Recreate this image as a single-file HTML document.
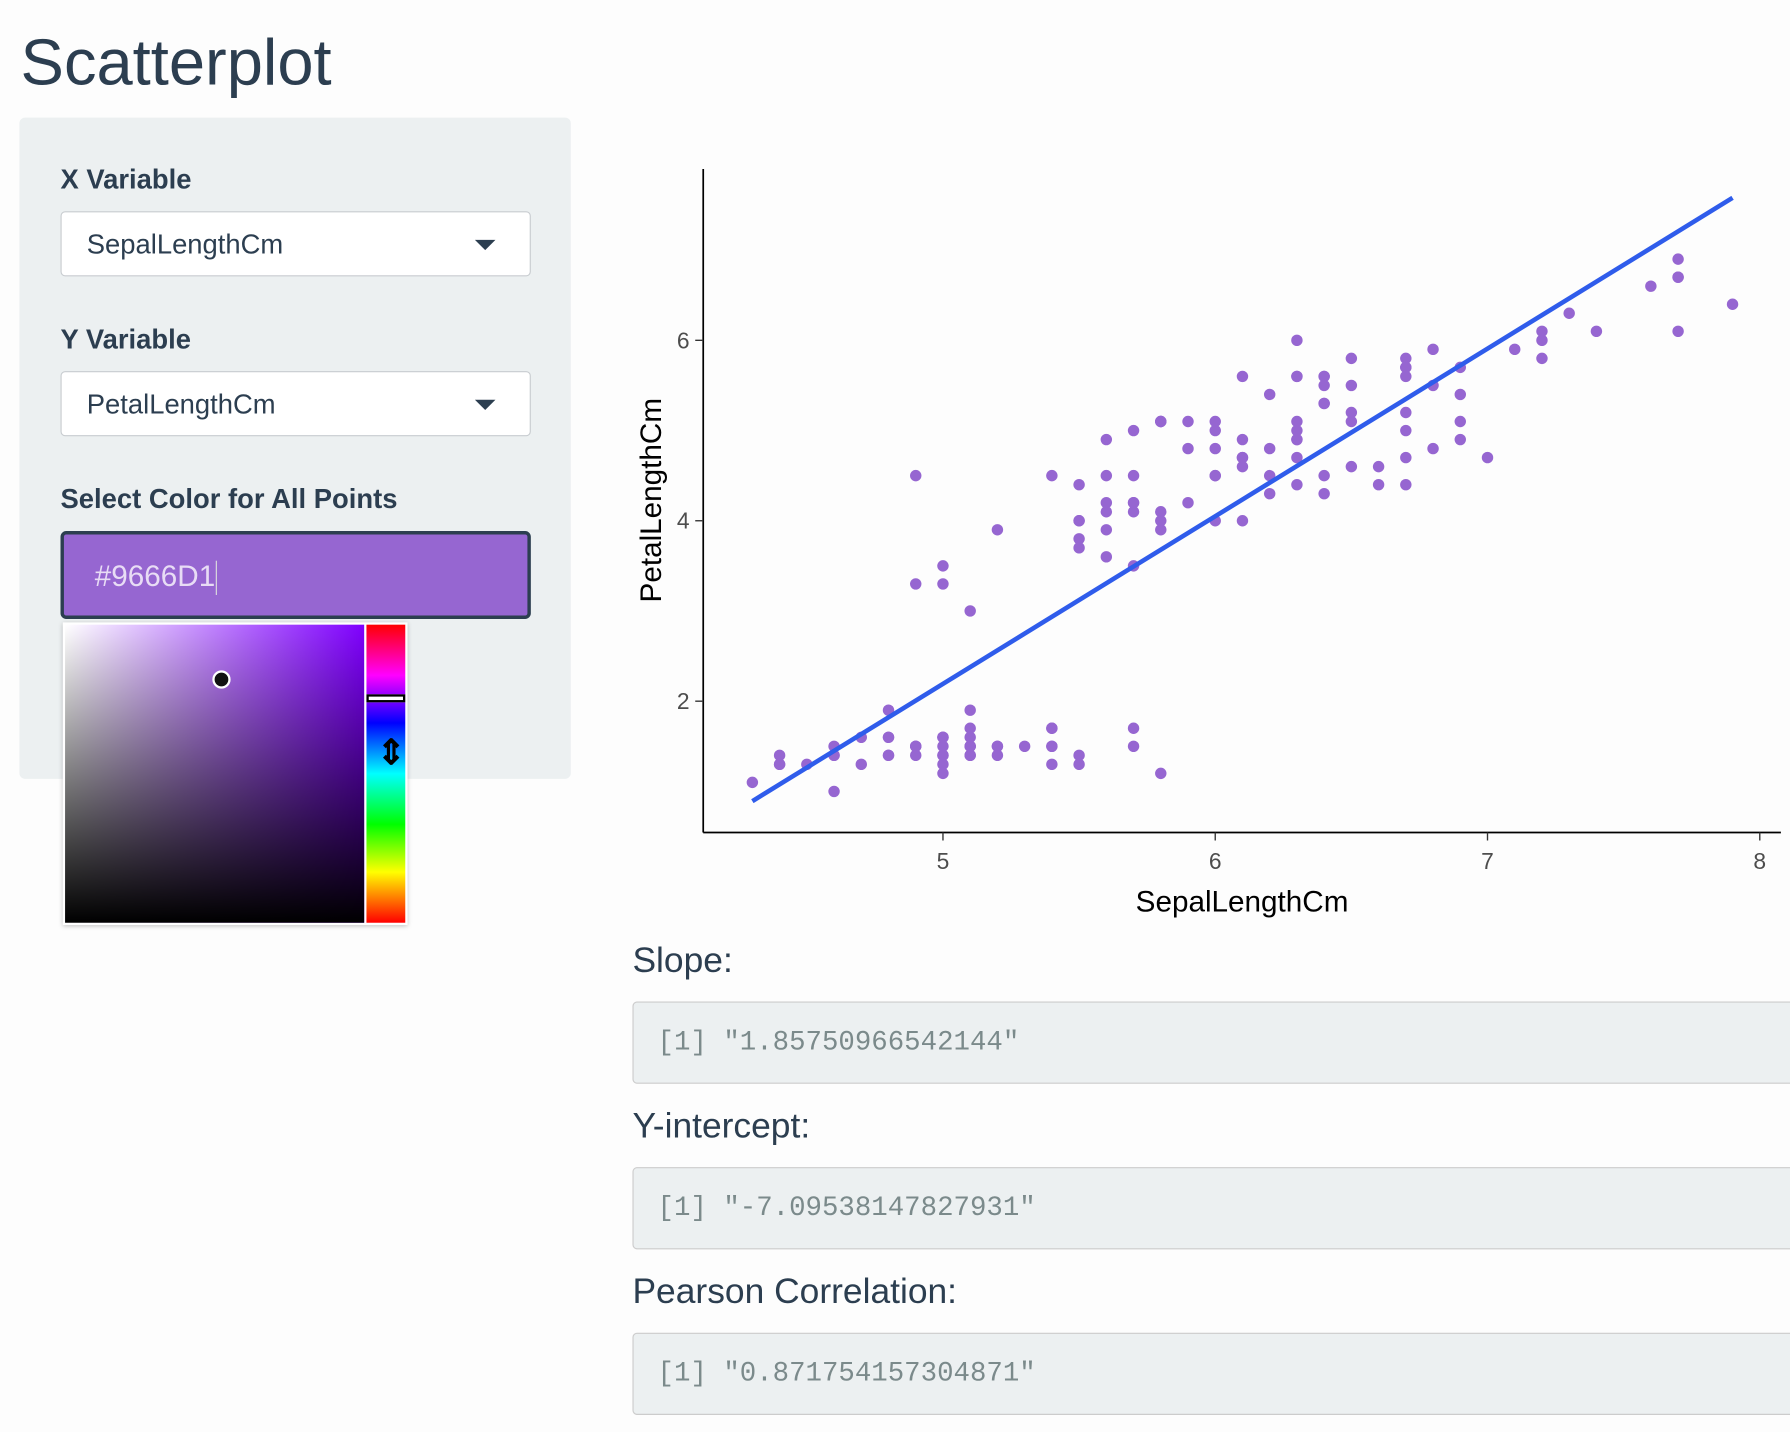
<!DOCTYPE html>
<html><head><meta charset="utf-8">
<style>
html,body{margin:0;padding:0;background:#fdfdfd;width:1790px;height:1432px;overflow:hidden}
#wrap{position:absolute;left:0;top:0;width:1568px;height:1254px;transform:scale(1.1416,1.142);transform-origin:0 0;font-family:"Liberation Sans",sans-serif;color:#2c3e50}
.abs{position:absolute}
.lbl{font-weight:bold;font-size:24px;color:#2c3e50}
.sel{background:#fff;border:1px solid #c8ccd0;border-radius:4px;box-sizing:border-box;font-size:24px;color:#2c3e50;padding-left:22px;line-height:58px}
.caret{position:absolute;right:30px;top:24px;width:0;height:0;border-left:9px solid transparent;border-right:9px solid transparent;border-top:9px solid #2c3e50}
.h{font-size:31px;color:#2c3e50}
.out{background:#ecf0f1;border:1px solid #ccc;border-radius:4px;box-sizing:border-box;font-family:"Liberation Mono",monospace;font-size:24px;color:#7b8a8b;padding-left:21px;line-height:72px}
</style></head><body>
<div id="wrap">
<div class="abs" style="left:18px;top:22px;font-size:57px;color:#2c3e50">Scatterplot</div>
<div class="abs" style="left:17px;top:103px;width:483px;height:579px;background:#ecf0f1;border-radius:5px"></div>
<div class="abs lbl" style="left:53px;top:144px">X Variable</div>
<div class="abs sel" style="left:53px;top:185px;width:412px;height:57px">SepalLengthCm<div class="caret"></div></div>
<div class="abs lbl" style="left:53px;top:284px">Y Variable</div>
<div class="abs sel" style="left:53px;top:325px;width:412px;height:57px">PetalLengthCm<div class="caret"></div></div>
<div class="abs lbl" style="left:53px;top:424px">Select Color for All Points</div>
<div class="abs" style="left:53px;top:465px;width:412px;height:77px;box-sizing:border-box;background:#9666D1;border:3px solid #2c3e50;border-radius:5px;color:#e8dcf5;font-size:26px;line-height:73px;padding-left:27px">#9666D1<span style="display:inline-block;width:1px;height:30px;background:#ddd;vertical-align:middle"></span></div>
<div class="abs" style="left:55px;top:545px;width:302px;height:265px;background:#fff;box-shadow:0 1px 4px rgba(0,0,0,.25)">
 <div class="abs" style="left:2px;top:2px;width:262px;height:261px;background:linear-gradient(to top,#000,rgba(0,0,0,0)),linear-gradient(to right,#fff,#7f00ff)"></div>
 <div class="abs" style="left:131px;top:42px;width:12px;height:12px;border-radius:50%;background:#111;border:2px solid #fff"></div>
 <div class="abs" style="left:266px;top:2px;width:34px;height:261px;background:linear-gradient(to bottom,#f00 0%,#f0f 17%,#00f 33%,#0ff 50%,#0f0 67%,#ff0 83%,#f00 100%)"></div>
 <div class="abs" style="left:266px;top:63px;width:30px;height:3px;background:#fff;border:2px solid #000"></div>
 <div class="abs" style="left:275px;top:100px;font-size:30px;color:#000;line-height:30px;font-weight:bold">⇕</div>
</div>
<svg class="abs" style="left:0;top:0" width="1568" height="830"><g id="plot"></g></svg>
<div class="abs h" style="left:554px;top:823px">Slope:</div>
<div class="abs out" style="left:554px;top:877px;width:1030px;height:72px">[1] "1.85750966542144"</div>
<div class="abs h" style="left:554px;top:968px">Y-intercept:</div>
<div class="abs out" style="left:554px;top:1022px;width:1030px;height:72px">[1] "-7.09538147827931"</div>
<div class="abs h" style="left:554px;top:1113px">Pearson Correlation:</div>
<div class="abs out" style="left:554px;top:1167px;width:1030px;height:72px">[1] "0.871754157304871"</div>
</div>
<script>
const sepalLength=[5.1,4.9,4.7,4.6,5.0,5.4,4.6,5.0,4.4,4.9,5.4,4.8,4.8,4.3,5.8,5.7,5.4,5.1,5.7,5.1,5.4,5.1,4.6,5.1,4.8,5.0,5.0,5.2,5.2,4.7,4.8,5.4,5.2,5.5,4.9,5.0,5.5,4.9,4.4,5.1,5.0,4.5,4.4,5.0,5.1,4.8,5.1,4.6,5.3,5.0,
7.0,6.4,6.9,5.5,6.5,5.7,6.3,4.9,6.6,5.2,5.0,5.9,6.0,6.1,5.6,6.7,5.6,5.8,6.2,5.6,5.9,6.1,6.3,6.1,6.4,6.6,6.8,6.7,6.0,5.7,5.5,5.5,5.8,6.0,5.4,6.0,6.7,6.3,5.6,5.5,5.5,6.1,5.8,5.0,5.6,5.7,5.7,6.2,5.1,5.7,
6.3,5.8,7.1,6.3,6.5,7.6,4.9,7.3,6.7,7.2,6.5,6.4,6.8,5.7,5.8,6.4,6.5,7.7,7.7,6.0,6.9,5.6,7.7,6.3,6.7,7.2,6.2,6.1,6.4,7.2,7.4,7.9,6.4,6.3,6.1,7.7,6.3,6.4,6.0,6.9,6.7,6.9,5.8,6.8,6.7,6.7,6.3,6.5,6.2,5.9];
const petalLength=[1.4,1.4,1.3,1.5,1.4,1.7,1.4,1.5,1.4,1.5,1.5,1.6,1.4,1.1,1.2,1.5,1.3,1.4,1.7,1.5,1.7,1.5,1.0,1.7,1.9,1.6,1.6,1.5,1.4,1.6,1.6,1.5,1.5,1.4,1.5,1.2,1.3,1.5,1.3,1.5,1.3,1.3,1.3,1.6,1.9,1.4,1.6,1.4,1.5,1.4,
4.7,4.5,4.9,4.0,4.6,4.5,4.7,3.3,4.6,3.9,3.5,4.2,4.0,4.7,3.6,4.4,4.5,4.1,4.5,3.9,4.8,4.0,4.9,4.7,4.3,4.4,4.8,5.0,4.5,3.5,3.8,3.7,3.9,5.1,4.5,4.5,4.7,4.4,4.1,4.0,4.4,4.6,4.0,3.3,4.2,4.2,4.2,4.3,3.0,4.1,
6.0,5.1,5.9,5.6,5.8,6.6,4.5,6.3,5.8,6.1,5.1,5.3,5.5,5.0,5.1,5.3,5.5,6.7,6.9,5.0,5.7,4.9,6.7,4.9,5.7,6.0,4.8,4.9,5.6,5.8,6.1,6.4,5.6,5.1,5.6,6.1,5.6,5.5,4.8,5.4,5.6,5.1,5.1,5.9,5.7,5.2,5.0,5.2,5.4,5.1];
const xTicks=[5,6,7,8];
const yTicks=[2,4,6];
const slope=1.85750966542144, intercept=-7.09538147827931;
const lineRange=[4.3,7.9];
const NS='http://www.w3.org/2000/svg';
const g=document.getElementById('plot');
const X=v=>587.5+(v-4)*238.5;
const Y=v=>772-v*79;
function mk(t,a){const e=document.createElementNS(NS,t);for(const k in a)e.setAttribute(k,a[k]);g.appendChild(e);return e;}
let e;
e=mk('line',{x1:616,y1:148,x2:616,y2:729,stroke:'#000','stroke-width':1.5});


e=mk('line',{x1:616,y1:729,x2:1560,y2:729,stroke:'#000','stroke-width':1.5});


xTicks.forEach(t=>{
 e=mk('line',{x1:X(t),y1:729,x2:X(t),y2:736,stroke:'#333','stroke-width':1.2});
 
 
 e=mk('text',{x:X(t),y:761,'text-anchor':'middle','font-size':20,fill:'#4d4d4d','font-family':'Liberation Sans, sans-serif'});e.textContent=t;
 
 
});
yTicks.forEach(t=>{
 e=mk('line',{x1:609,y1:Y(t),x2:616,y2:Y(t),stroke:'#333','stroke-width':1.2});
 
 
 e=mk('text',{x:604,y:Y(t)+7,'text-anchor':'end','font-size':20,fill:'#4d4d4d','font-family':'Liberation Sans, sans-serif'});e.textContent=t;
 
 
});
e=mk('text',{x:1088,y:798,'text-anchor':'middle','font-size':26,fill:'#000','font-family':'Liberation Sans, sans-serif'});e.textContent='SepalLengthCm';


e=mk('text',{x:0,y:0,'text-anchor':'middle','font-size':26,fill:'#000','font-family':'Liberation Sans, sans-serif',transform:'translate(579,438) rotate(-90)'});e.textContent='PetalLengthCm';


sepalLength.forEach((sx,i)=>{
 e=mk('circle',{cx:X(sx),cy:Y(petalLength[i]),r:5,fill:'#9666D1'});
 
 
});
e=mk('line',{x1:X(lineRange[0]),y1:Y(slope*lineRange[0]+intercept),x2:X(lineRange[1]),y2:Y(slope*lineRange[1]+intercept),stroke:'#2f5ceb','stroke-width':4});


</script>
</body></html>
